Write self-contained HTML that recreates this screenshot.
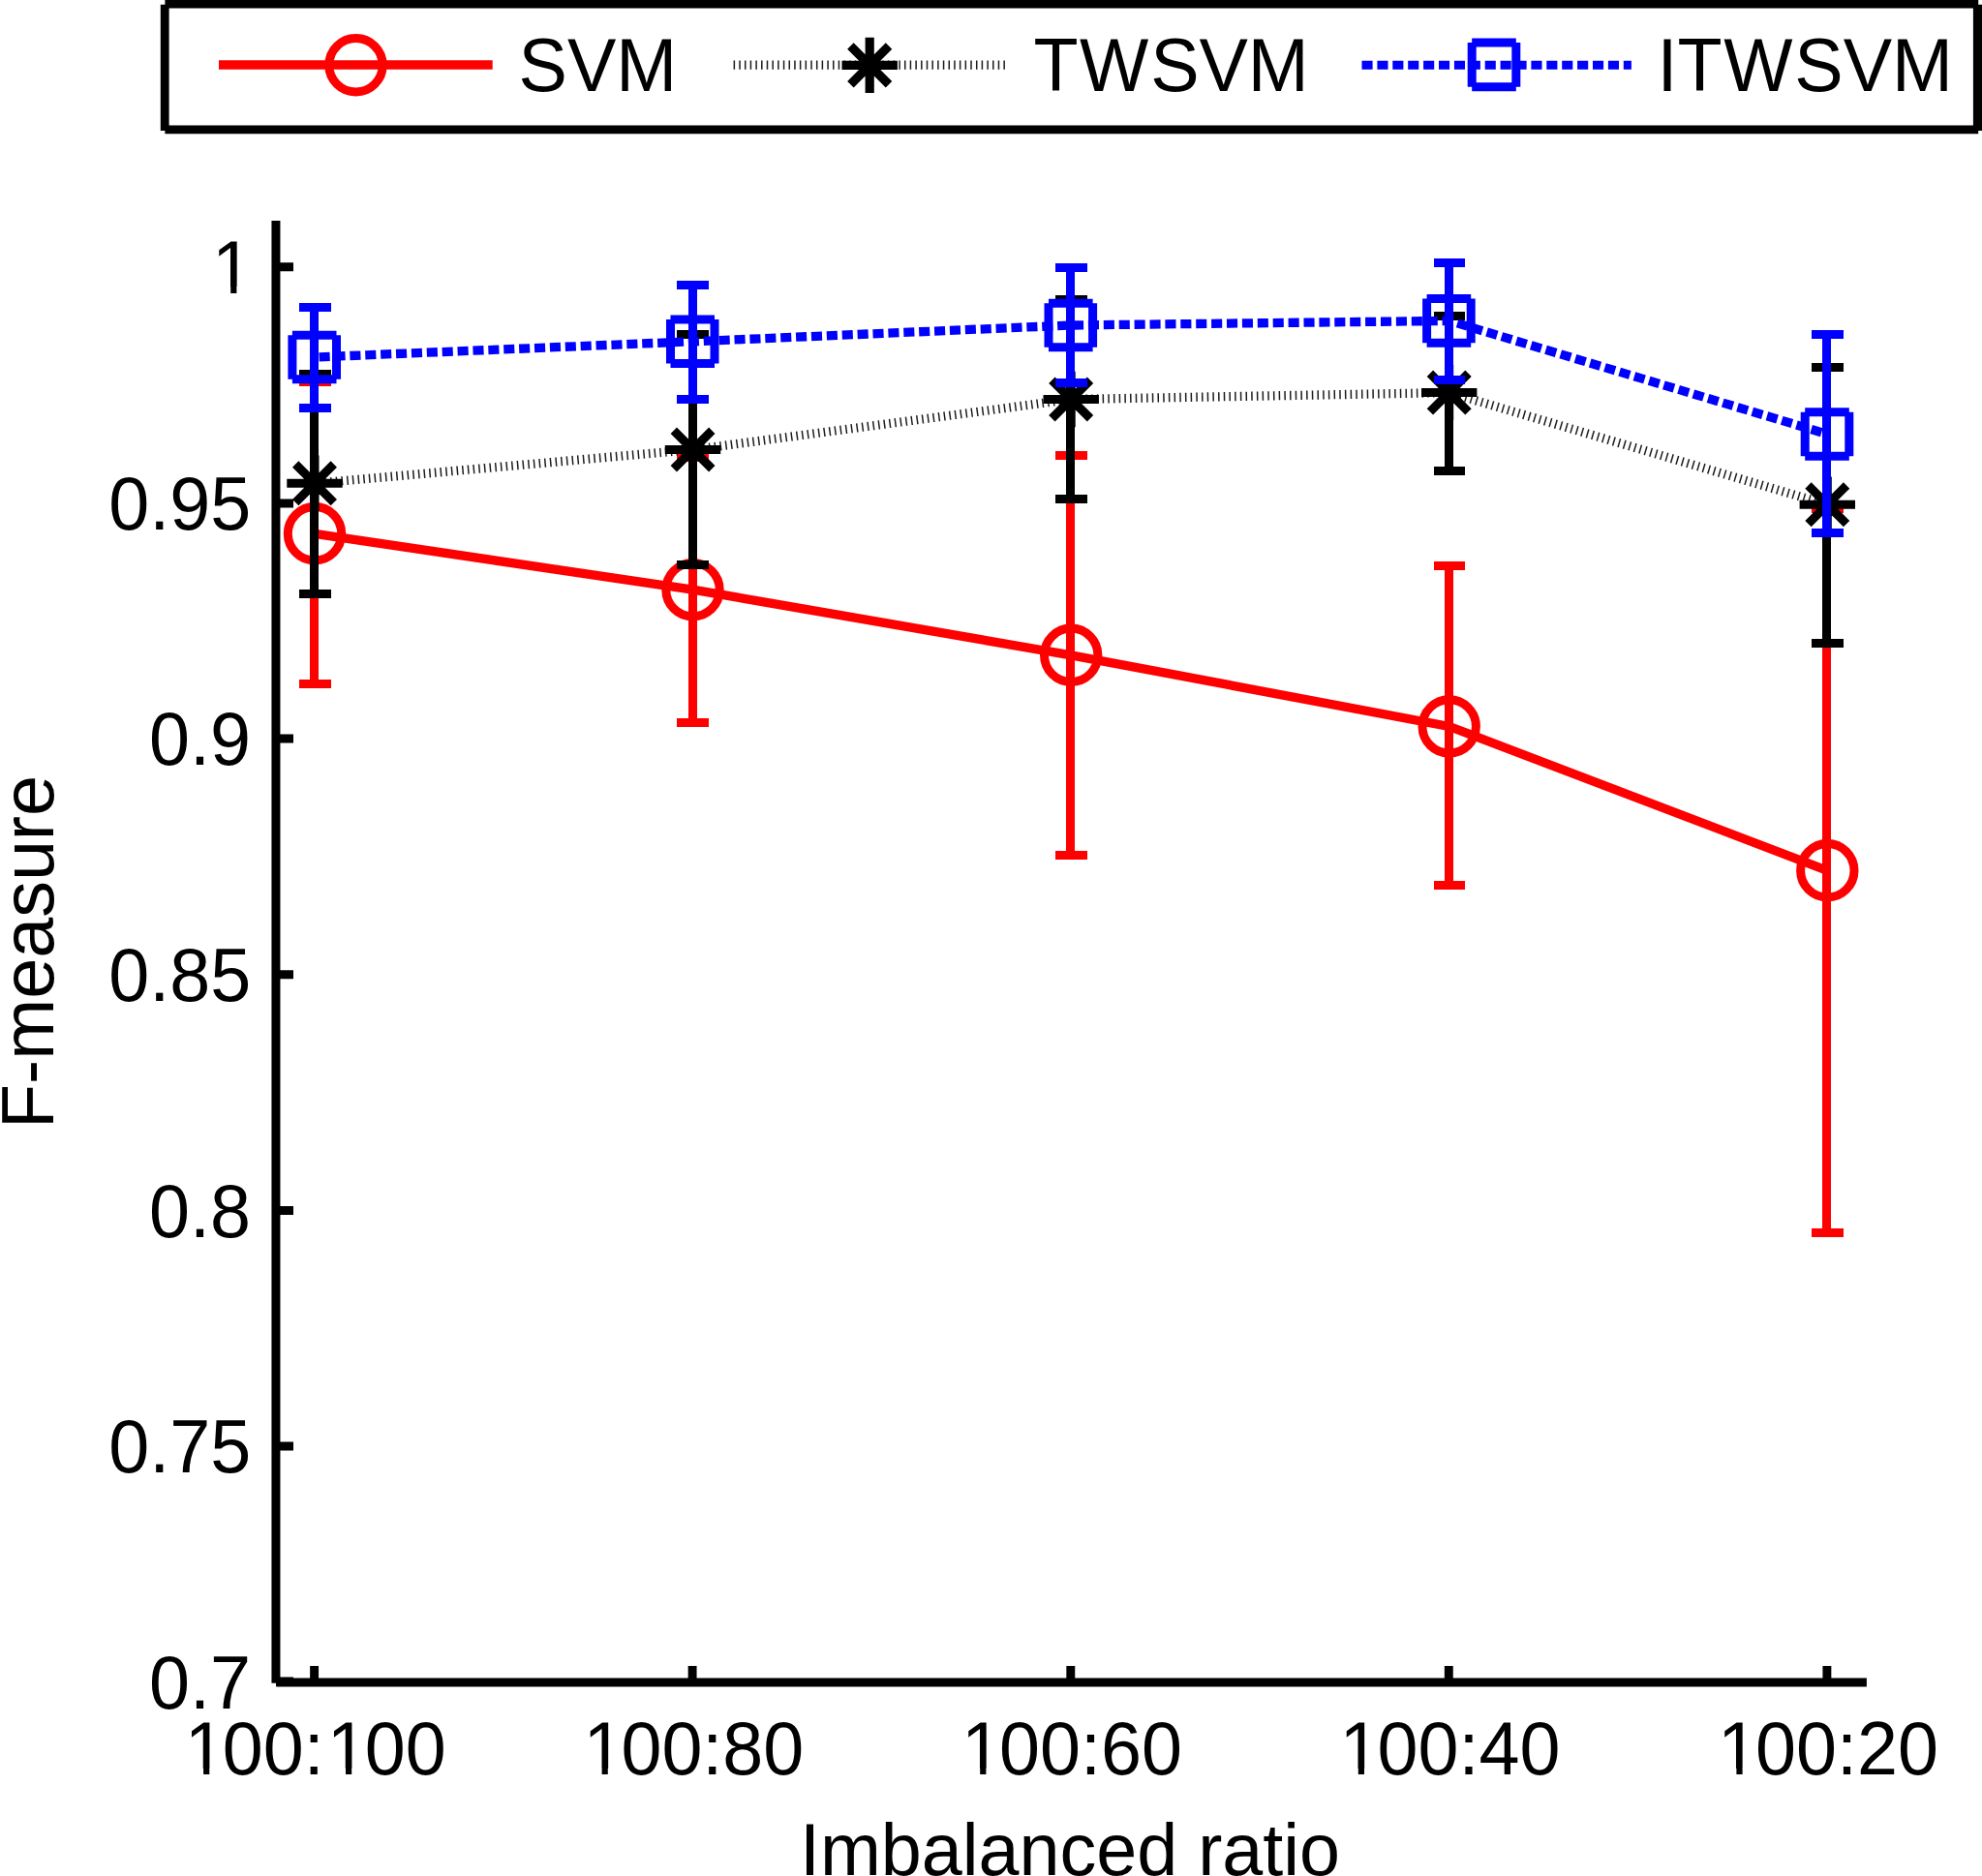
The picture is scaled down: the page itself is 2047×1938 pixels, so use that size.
<!DOCTYPE html>
<html lang="en"><head><meta charset="utf-8"><title>F-measure vs imbalanced ratio</title>
<style>html,body{margin:0;padding:0;background:#fff}svg{display:block}text{font-family:"Liberation Sans",sans-serif;font-size:75.5px;fill:#000}</style>
</head><body>
<svg width="2047" height="1938" viewBox="0 0 2047 1938">
<rect x="0" y="0" width="2047" height="1938" fill="#fff"/>
<g id="axes" fill="none" stroke="#000">
<path d="M284.95 228.1V1738.7" stroke-width="9"/>
<path d="M285.2 1738.05H1927.9" stroke-width="8.9"/>
<path d="M285 275.8H303M285 520.0H303M285 762.9H303M285 1006.8H303M285 1250.5H303M285 1494.1H303M285 1736.9H303" stroke-width="9"/>
<path d="M324.6 1738V1721M715.1 1738V1721M1105.8 1738V1721M1496.3 1738V1721M1886.9 1738V1721" stroke-width="8.9"/>
</g>
<g id="ylabels">
<text transform="translate(217.1 302.8) scale(1 1.04)"><tspan dx="1.8">1</tspan></text>
<text transform="translate(112.2 547.0) scale(1 1.04)">0.95</text>
<text transform="translate(154.1 789.9) scale(1 1.04)">0.9</text>
<text transform="translate(112.2 1033.8) scale(1 1.04)">0.85</text>
<text transform="translate(154.1 1277.5) scale(1 1.04)">0.8</text>
<text transform="translate(112.2 1521.1) scale(1 1.04)">0.75</text>
<text transform="translate(154.1 1764.9) scale(1 1.04)">0.7</text>
</g>
<g id="xlabels">
<text transform="translate(187.8 1833.3) scale(1 1.04)"><tspan dx="3.0">1</tspan><tspan dx="-3.0">00:</tspan><tspan dx="3.0">1</tspan><tspan dx="-3.0">00</tspan></text>
<text transform="translate(599.4 1833.3) scale(1 1.04)"><tspan dx="3.0">1</tspan><tspan dx="-3.0">00:80</tspan></text>
<text transform="translate(990.0 1833.3) scale(1 1.04)"><tspan dx="3.0">1</tspan><tspan dx="-3.0">00:60</tspan></text>
<text transform="translate(1380.5 1833.3) scale(1 1.04)"><tspan dx="3.0">1</tspan><tspan dx="-3.0">00:40</tspan></text>
<text transform="translate(1771.1 1833.3) scale(1 1.04)"><tspan dx="3.0">1</tspan><tspan dx="-3.0">00:20</tspan></text>
<text text-anchor="middle" transform="translate(1105 1936.6) scale(1 1.0)">Imbalanced ratio</text>
<text text-anchor="middle" transform="translate(54.7 983.5) rotate(-90) scale(1 1.0)">F-measure</text>
</g>
<path d="M223.4 296.2H238.2V303.8H223.4ZM244.4 296.2H258.4V303.8H244.4ZM195.3 1826.7H210.1V1834.3H195.3ZM216.3 1826.7H230.3V1834.3H216.3ZM342.3 1826.7H357.0V1834.3H342.3ZM363.2 1826.7H377.3V1834.3H363.2ZM606.9 1826.7H621.6V1834.3H606.9ZM627.8 1826.7H641.9V1834.3H627.8ZM997.5 1826.7H1012.2V1834.3H997.5ZM1018.4 1826.7H1032.5V1834.3H1018.4ZM1388.0 1826.7H1402.8V1834.3H1388.0ZM1409.0 1826.7H1423.0V1834.3H1409.0ZM1778.6 1826.7H1793.4V1834.3H1778.6ZM1799.6 1826.7H1813.6V1834.3H1799.6Z" fill="#fff"/>
<g id="svm">
<path d="M324.6 394.3V706.4M308.8 394.3H341.6M308.8 706.4H341.6M715.1 472.0V746.3M699.4 472.0H732.1M699.4 746.3H732.1M1105.8 470.8V883.0M1090.0 470.8H1122.8M1090.0 883.0H1122.8M1496.3 584.5V914.6M1480.5 584.5H1513.3M1480.5 914.6H1513.3M1886.9 525.3V1273.3M1871.1 525.3H1903.9M1871.1 1273.3H1903.9" fill="none" stroke="#f00" stroke-width="9" shape-rendering="crispEdges"/>
<polyline points="325.0,551.3 715.5,609.2 1106.2,676.8 1496.7,750.4 1887.3,899.3" fill="none" stroke="#f00" stroke-width="9.3" />
<circle cx="325.0" cy="551.3" r="27.7" fill="none" stroke="#f00" stroke-width="9"/>
<circle cx="715.5" cy="609.2" r="27.7" fill="none" stroke="#f00" stroke-width="9"/>
<circle cx="1106.2" cy="676.8" r="27.7" fill="none" stroke="#f00" stroke-width="9"/>
<circle cx="1496.7" cy="750.4" r="27.7" fill="none" stroke="#f00" stroke-width="9"/>
<circle cx="1887.3" cy="899.3" r="27.7" fill="none" stroke="#f00" stroke-width="9"/>
</g>
<g id="twsvm">
<path d="M324.6 386.2V613.0M308.8 386.2H341.6M308.8 613.0H341.6M715.1 345.2V583.6M699.4 345.2H732.1M699.4 583.6H732.1M1105.8 309.5V515.2M1090.0 309.5H1122.8M1090.0 515.2H1122.8M1496.3 326.0V486.0M1480.5 326.0H1513.3M1480.5 486.0H1513.3M1886.9 379.4V664.4M1871.1 379.4H1903.9M1871.1 664.4H1903.9" fill="none" stroke="#000" stroke-width="9" shape-rendering="crispEdges"/>
<polyline points="325.0,499.3 715.5,464.5 1106.2,412.5 1496.7,405.6 1887.3,521.3" fill="none" stroke="#1c1c1c" stroke-width="9.3" stroke-dasharray="1.5 4.19" stroke-dashoffset="0.75"/>
<path d="M325.0 470.6V528.0M296.3 499.3H353.7M305.2 479.5L344.8 519.1M305.2 519.1L344.8 479.5M715.5 435.8V493.2M686.8 464.5H744.2M695.8 444.7L735.3 484.3M695.8 484.3L735.3 444.7M1106.2 383.8V441.2M1077.5 412.5H1134.9M1086.4 392.7L1126.0 432.3M1086.4 432.3L1126.0 392.7M1496.7 376.9V434.3M1468.0 405.6H1525.4M1476.9 385.8L1516.5 425.4M1476.9 425.4L1516.5 385.8M1887.3 492.6V550.0M1858.6 521.3H1916.0M1867.5 501.5L1907.1 541.1M1867.5 541.1L1907.1 501.5" fill="none" stroke="#000" stroke-width="9"/>
</g>
<g id="itwsvm">
<path d="M324.6 317.0V421.6M308.8 317.0H341.6M308.8 421.6H341.6M715.1 294.3V412.0M699.4 294.3H732.1M699.4 412.0H732.1M1105.8 276.0V395.7M1090.0 276.0H1122.8M1090.0 395.7H1122.8M1496.3 271.8V392.0M1480.5 271.8H1513.3M1480.5 392.0H1513.3M1886.9 345.3V550.6M1871.1 345.3H1903.9M1871.1 550.6H1903.9" fill="none" stroke="#00f" stroke-width="9" shape-rendering="crispEdges"/>
<polyline points="325.0,369.0 715.5,352.8 1106.2,336.0 1496.7,331.4 1887.3,448.5" fill="none" stroke="#00f" stroke-width="9.3" stroke-dasharray="11.1 4.8" stroke-dashoffset="11.3"/>
<path d="M301.9 346.2H347.5M347.5 346.2V391.8M347.5 391.8H301.9M301.9 391.8V346.2M692.5 330.0H738.0M738.0 330.0V375.6M738.0 375.6H692.5M692.5 375.6V330.0M1083.0 313.2H1128.6M1128.6 313.2V358.8M1128.6 358.8H1083.0M1083.0 358.8V313.2M1473.6 308.6H1519.2M1519.2 308.6V354.2M1519.2 354.2H1473.6M1473.6 354.2V308.6M1864.2 425.7H1909.8M1909.8 425.7V471.3M1909.8 471.3H1864.2M1864.2 471.3V425.7" fill="none" stroke="#00f" stroke-width="9"/>
</g>
<g id="legend">
<path d="M170.2 4.8V135.1M170.4 4H2043.2M170.4 133.85H2043.2" fill="none" stroke="#000" stroke-width="8.8"/>
<path d="M2043 4.8V135.1" fill="none" stroke="#000" stroke-width="10.2"/>
<path d="M226 67H508.7" stroke="#f00" stroke-width="9.3"/>
<circle cx="367.5" cy="67.3" r="27.7" fill="none" stroke="#f00" stroke-width="9"/>
<text transform="translate(535.6 94.3) scale(1 1.04)">SVM</text>
<path d="M757.6 67.1H1038.4" stroke="#1c1c1c" stroke-width="9.3" stroke-dasharray="1.5 4.19"/>
<path d="M898.2 38.7V96.1M869.5 67.4H926.9M878.4 47.6L918.0 87.2M878.4 87.2L918.0 47.6" fill="none" stroke="#000" stroke-width="9.2"/>
<text transform="translate(1067.4 94.3) scale(1 1.04)">T<tspan dx="1.6">W</tspan><tspan dx="1.8">SVM</tspan></text>
<path d="M1406.5 67.2H1684.9" stroke="#00f" stroke-width="9.1" stroke-dasharray="11.1 4.8"/>
<path d="M1520.2 44.1H1565.8M1565.8 44.1V89.7M1565.8 89.7H1520.2M1520.2 89.7V44.1" fill="none" stroke="#00f" stroke-width="9"/>
<text transform="translate(1711.6 94.3) scale(1 1.04)">IT<tspan dx="1.6">W</tspan><tspan dx="1.8">SVM</tspan></text>
</g>
</svg></body></html>
